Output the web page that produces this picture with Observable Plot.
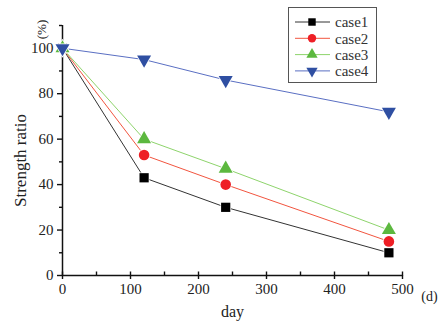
<!DOCTYPE html>
<html>
<head>
<meta charset="utf-8">
<script src="https://cdn.jsdelivr.net/npm/d3@7"></script>
<script src="https://cdn.jsdelivr.net/npm/@observablehq/plot@0.6"></script>
<style>
  html, body { margin: 0; padding: 0; background: #fff; }
  #wrap { position: relative; width: 439px; height: 322px; }
  #legend { position: absolute; left: 288px; top: 7px; width: 87px; height: 74px;
    border: 1.5px solid #555; background: #fff; box-sizing: content-box;
    font-family: "Liberation Serif", serif; font-size: 15px; color: #333; }
</style>
</head>
<body>
<div id="wrap"></div>
<script>
const days = [0, 120, 240, 480];
const seriesNames = ["case1", "case2", "case3", "case4"];
const case1 = [100, 43, 30, 10];
const case2 = [100, 53, 40, 15];
const case3 = [100, 60, 47, 20];
const case4 = [100, 95, 86, 72];
const xTicks = [0, 100, 200, 300, 400, 500];
const xMinor = [50, 150, 250, 350, 450];
const yTicks = [0, 20, 40, 60, 80, 100];
const yMinor = [10, 30, 50, 70, 90, 110];

const values = [case1, case2, case3, case4];
const lineColors = ["#333333", "#f2553f", "#8ed46c", "#5a6fc3"];
const dotColors = ["#000000", "#ee1f26", "#5cb83f", "#2f4fa2"];

const triangleDown = {
  draw(ctx, size) {
    const y = -Math.sqrt(size / (Math.sqrt(3) * 3));
    ctx.moveTo(0, -y * 2);
    ctx.lineTo(-Math.sqrt(3) * y, y);
    ctx.lineTo(Math.sqrt(3) * y, y);
    ctx.closePath();
  }
};
// inward tick glyph (upwards from the x axis)
const tickUp = {draw(ctx) { ctx.moveTo(0, -4); ctx.lineTo(0, 0); }};

const symbols = ["square", "circle", "triangle", triangleDown];
const radii = [5.2, 5.3, 5.2, 5.2];

const data = [];
seriesNames.forEach((s, i) => values[i].forEach((v, j) => data.push({series: s, idx: i, day: days[j], value: v})));

const marks = [];
seriesNames.forEach((s, i) => {
  const d = data.filter(e => e.series === s);
  marks.push(Plot.line(d, {x: "day", y: "value", stroke: lineColors[i], strokeWidth: 1}));
});
seriesNames.forEach((s, i) => {
  const d = data.filter(e => e.series === s);
  marks.push(Plot.dot(d, {x: "day", y: "value", symbol: () => symbols[i], r: radii[i],
    fill: dotColors[i], stroke: "white", strokeWidth: 1.5, paintOrder: "stroke"}));
});

const W = 439, H = 322, ML = 62, MR = 37, MT = 25, MB = 47;
const font = "Liberation Serif";
const plot = Plot.plot({
  width: W,
  height: H,
  marginLeft: ML,
  marginRight: MR,
  marginTop: MT,
  marginBottom: MB,
  style: {fontFamily: font, fontSize: "15px", color: "#222", background: "white"},
  x: {domain: [0, 500], axis: null},
  y: {domain: [0, 110], axis: null},
  symbol: {type: "identity"},
  marks: [
    Plot.axisX({ticks: xTicks, tickSize: 4, tickPadding: 4, label: null, fontSize: 15, stroke: "#111", strokeWidth: 1.4, tickFormat: d => String(d)}),
    Plot.axisY({ticks: yTicks, tickSize: 5, tickPadding: 4, label: null, fontSize: 15, stroke: "#111", strokeWidth: 1.4, tickFormat: d => String(d)}),
    Plot.axisY({ticks: yMinor, tickSize: 3, text: null, label: null, stroke: "#111", strokeWidth: 1.4}),
    Plot.dot(xTicks, {x: d => d, y: () => 0, symbol: () => tickUp, r: 3, fill: "none", stroke: "#111", strokeWidth: 1.4}),
    Plot.dot(xMinor, {x: d => d, y: () => 0, symbol: () => tickUp, r: 3, fill: "none", stroke: "#111", strokeWidth: 1.4}),
    Plot.ruleX([0], {y1: 0, y2: 110, stroke: "#111", strokeWidth: 1.5}),
    Plot.ruleY([0], {x1: 0, x2: 500, stroke: "#111", strokeWidth: 1.5}),
    ...marks,
    Plot.text(["Strength ratio"], {frameAnchor: "left", dx: -42, dy: 10, rotate: -90, textAnchor: "middle", lineAnchor: "middle", fontSize: 17, fill: "#222"}),
    Plot.text(["(%)"], {frameAnchor: "top-left", dx: -21, dy: 4, rotate: -90, textAnchor: "middle", lineAnchor: "middle", fontSize: 13, fill: "#222"}),
    Plot.text(["day"], {frameAnchor: "bottom", dy: 36, textAnchor: "middle", lineAnchor: "middle", fontSize: 16, fill: "#222"}),
    Plot.text(["(d)"], {frameAnchor: "bottom-right", dx: 27, dy: 21, textAnchor: "middle", lineAnchor: "middle", fontSize: 14, fill: "#222"})
  ]
});
const wrap = document.getElementById("wrap");
wrap.appendChild(plot);

const legend = document.createElement("div");
legend.id = "legend";
const ns = "http://www.w3.org/2000/svg";
const lsvg = document.createElementNS(ns, "svg");
lsvg.setAttribute("width", 87);
lsvg.setAttribute("height", 74);
seriesNames.forEach((s, i) => {
  const cy = 14 + i * 16.3;
  const line = document.createElementNS(ns, "line");
  line.setAttribute("x1", 6); line.setAttribute("x2", 41);
  line.setAttribute("y1", cy); line.setAttribute("y2", cy);
  line.setAttribute("stroke", lineColors[i]); line.setAttribute("stroke-width", 1);
  lsvg.appendChild(line);
  const p = document.createElementNS(ns, "path");
  const sym = typeof symbols[i] === "string" ? ({square: d3.symbolSquare, circle: d3.symbolCircle, triangle: d3.symbolTriangle})[symbols[i]] : symbols[i];
  p.setAttribute("d", d3.symbol(sym, Math.PI * 4.2 * 4.2)());
  p.setAttribute("transform", `translate(23,${cy})`);
  p.setAttribute("fill", dotColors[i]);
  lsvg.appendChild(p);
  const t = document.createElementNS(ns, "text");
  t.setAttribute("x", 46); t.setAttribute("y", cy);
  t.setAttribute("dy", "0.35em");
  t.setAttribute("font-family", font);
  t.setAttribute("font-size", 15);
  t.setAttribute("fill", "#333");
  t.textContent = s;
  lsvg.appendChild(t);
});
legend.appendChild(lsvg);
wrap.appendChild(legend);
</script>
</body>
</html>
